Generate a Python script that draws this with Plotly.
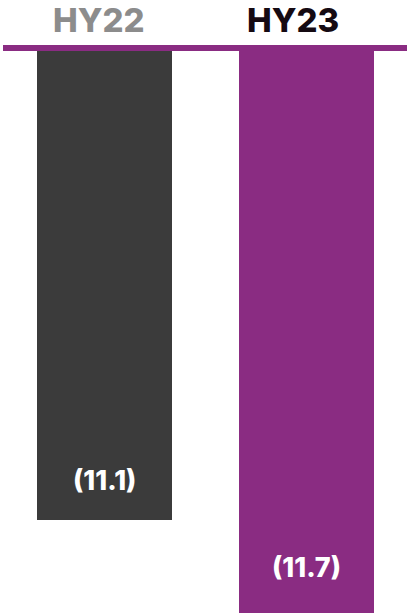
import plotly.graph_objects as go

# Half-year net figures (negative values, shown in parentheses)
periods = ["HY22", "HY23"]
values = [-11.1, -11.7]
labels = ["(11.1)", "(11.7)"]
bar_colors = ["#3b3b3b", "#8a2c82"]
header_colors = ["#8c8c8c", "#150a12"]

fig = go.Figure(
    go.Bar(
        x=periods,
        y=values,
        marker=dict(color=bar_colors, line=dict(width=0)),
        width=0.67,
        hoverinfo="skip",
    )
)

# Value labels near the bottom end of each bar
for p, v, t, s in zip(periods, values, labels, [21, 27]):
    fig.add_annotation(
        x=p, y=v, text=t, showarrow=False,
        yanchor="bottom", yshift=s,
        font=dict(family="Inter", size=27, color="white", weight=800),
    )

# Period headers above the baseline
for p, c, dx in zip(periods, header_colors, [-6, -13]):
    fig.add_annotation(
        x=p, y=1.055, yref="paper", text=p, showarrow=False,
        xshift=dx, yanchor="middle",
        font=dict(family="Inter", size=33, color=c, weight=800),
    )

# Purple baseline the bars hang from
fig.add_shape(
    type="rect", xref="paper", yref="paper",
    x0=3 / 408, x1=407 / 408, y0=1.0, y1=1.0107,
    fillcolor="#8a2c82", line=dict(width=0), layer="above",
)

fig.update_layout(
    width=408, height=613,
    margin=dict(l=0, r=0, t=51, b=0),
    paper_bgcolor="white", plot_bgcolor="white",
    showlegend=False,
    bargap=0,
    xaxis=dict(visible=False, range=[-0.5186, 1.506]),
    yaxis=dict(visible=False, range=[-11.7, -8.074]),
)

fig.write_html("out.html")
